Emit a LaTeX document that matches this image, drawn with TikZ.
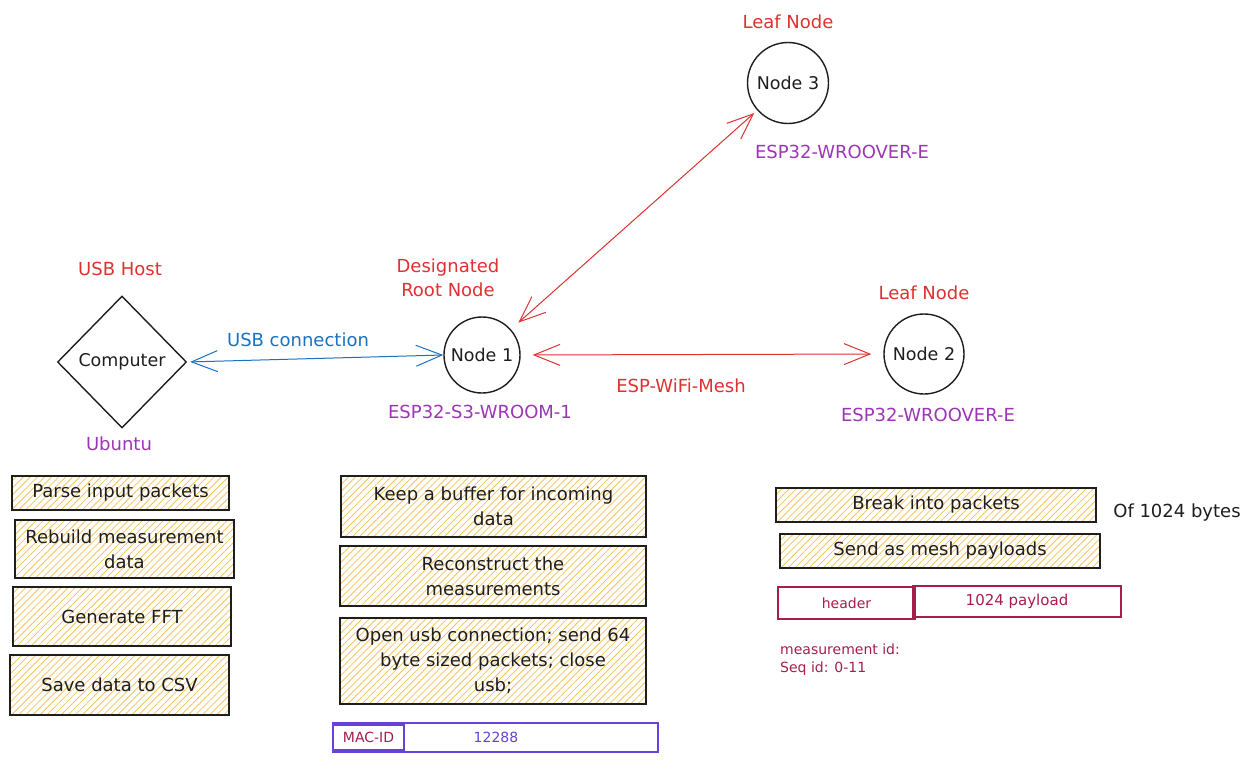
\documentclass[tikz,border=0pt]{standalone}
\usepackage{fontspec}
\setmainfont{DejaVu Sans}
\usetikzlibrary{shapes.geometric,arrows.meta,patterns.meta}
\definecolor{xred}{HTML}{E03131}
\definecolor{xpurple}{HTML}{9C36B5}
\definecolor{xblue}{HTML}{1971C2}
\definecolor{xcrimson}{HTML}{A61E4D}
\definecolor{xviolet}{HTML}{6741D9}
\definecolor{hatch}{HTML}{F7C35A}
\definecolor{ink}{HTML}{1E1E1E}
\begin{document}
\begin{tikzpicture}[x=1pt,y=-1pt,
  lbl/.style={font=\fontsize{18}{24}\selectfont, align=center, inner sep=0pt},
  small/.style={font=\fontsize{14}{20}\selectfont, inner sep=0pt},
  box/.style={draw=ink, line width=1.2pt,
    pattern={Lines[angle=45,distance=5pt,line width=0.8pt]}, pattern color=hatch,
    align=center, font=\fontsize{18}{25}\selectfont, inner sep=0pt, text=ink},
  dev/.style={draw=ink, circle, line width=1.4pt, inner sep=0pt,
    font=\fontsize{17.5}{22}\selectfont, text=ink},
  link/.style={line width=1pt,
    {Straight Barb[length=26pt,width=21pt]}-{Straight Barb[length=26pt,width=21pt]}},
  rec/.style={line width=1.2pt, inner sep=0pt},
]
\useasboundingbox[fill=white] (0,0) rectangle (1259,776);

% devices
\node[draw=ink, diamond, line width=1.4pt, aspect=0.98, minimum width=129pt,
  minimum height=132pt, inner sep=0pt, font=\fontsize{17.5}{22}\selectfont, text=ink]
  (pc) at (122,362) {Computer};
\node[dev, minimum size=76pt] (n1) at (482,355) {Node 1};
\node[dev, minimum size=80pt] (n2) at (924,354) {Node 2};
\node[dev, minimum size=81pt] (n3) at (788,83) {Node 3};

% labels
\node[lbl, xred] (hostlbl) at (120,269) {USB Host};
\node[lbl, xpurple] (ubuntu) at (119,444) {Ubuntu};
\node[lbl, xred] (rootlbl) at (448,278) {Designated\\Root Node};
\node[lbl, xpurple] (n1chip) at (480,412) {ESP32-S3-WROOM-1};
\node[lbl, xred] (leaf3) at (788,22) {Leaf Node};
\node[lbl, xpurple] (n3chip) at (842,152) {ESP32-WROOVER-E};
\node[lbl, xred] (leaf2) at (924,293) {Leaf Node};
\node[lbl, xpurple] (n2chip) at (928,415) {ESP32-WROOVER-E};

% connections
\draw[link, xblue, shorten <=3pt] (pc.east) -- (n1.west);
\node[lbl, xblue] (usblbl) at (298,340) {USB connection};
\draw[link, xred, shorten <=12pt, shorten >=12pt] (n1.east) -- (n2.west);
\node[lbl, xred] (meshlbl) at (681,386) {ESP-WiFi-Mesh};
\draw[link, xred, shorten <=10pt, shorten >=4pt] (n1) -- (n3);

% left column
\node[box, minimum width=217pt, minimum height=34pt] (b1) at (120.5,493) {Parse input packets};
\node[box, minimum width=219pt, minimum height=58pt] (b2) at (124.5,549) {Rebuild measurement\\data};
\node[box, minimum width=218pt, minimum height=59pt] (b3) at (122,616.5) {Generate FFT};
\node[box, minimum width=219pt, minimum height=60pt] (b4) at (119.5,685) {Save data to CSV};

% middle column
\node[box, minimum width=305pt, minimum height=61pt] (m1) at (493.5,506.5) {Keep a buffer for incoming\\data};
\node[box, minimum width=306pt, minimum height=60pt] (m2) at (493,576) {Reconstruct the\\measurements};
\node[box, minimum width=306pt, minimum height=86pt] (m3) at (493,661) {Open usb connection; send 64\\byte sized packets; close\\usb;};
\node[rec, draw=xviolet, minimum width=325pt, minimum height=29pt] (mac) at (495.5,737.5) {};
\node[rec, draw=xviolet, minimum width=71pt, minimum height=25pt, small, text=xcrimson] (macid) at (368.5,737.5) {MAC-ID};
\node[small, text=xviolet] (macval) at (496,737) {12288};

% right column
\node[box, minimum width=320pt, minimum height=34pt] (r1) at (936,505) {Break into packets};
\node[lbl, text=ink] (of1024) at (1177,513) {Of 1024 bytes};
\node[box, minimum width=320pt, minimum height=34pt] (r2) at (940,551) {Send as mesh payloads};
\node[rec, draw=xcrimson, minimum width=137pt, minimum height=32pt, small, text=xcrimson] (hdr) at (846.5,603) {header};
\node[rec, draw=xcrimson, minimum width=208pt, minimum height=31pt, font=\fontsize{15}{20}\selectfont, text=xcrimson] (pl) at (1017,601.5) {1024 payload};
\node[small, text=xcrimson, anchor=west] (mid) at (780,649) {measurement id:};
\node[small, text=xcrimson, anchor=west] (seq) at (780,669) {Seq id: 0-11};
\end{tikzpicture}
\end{document}
